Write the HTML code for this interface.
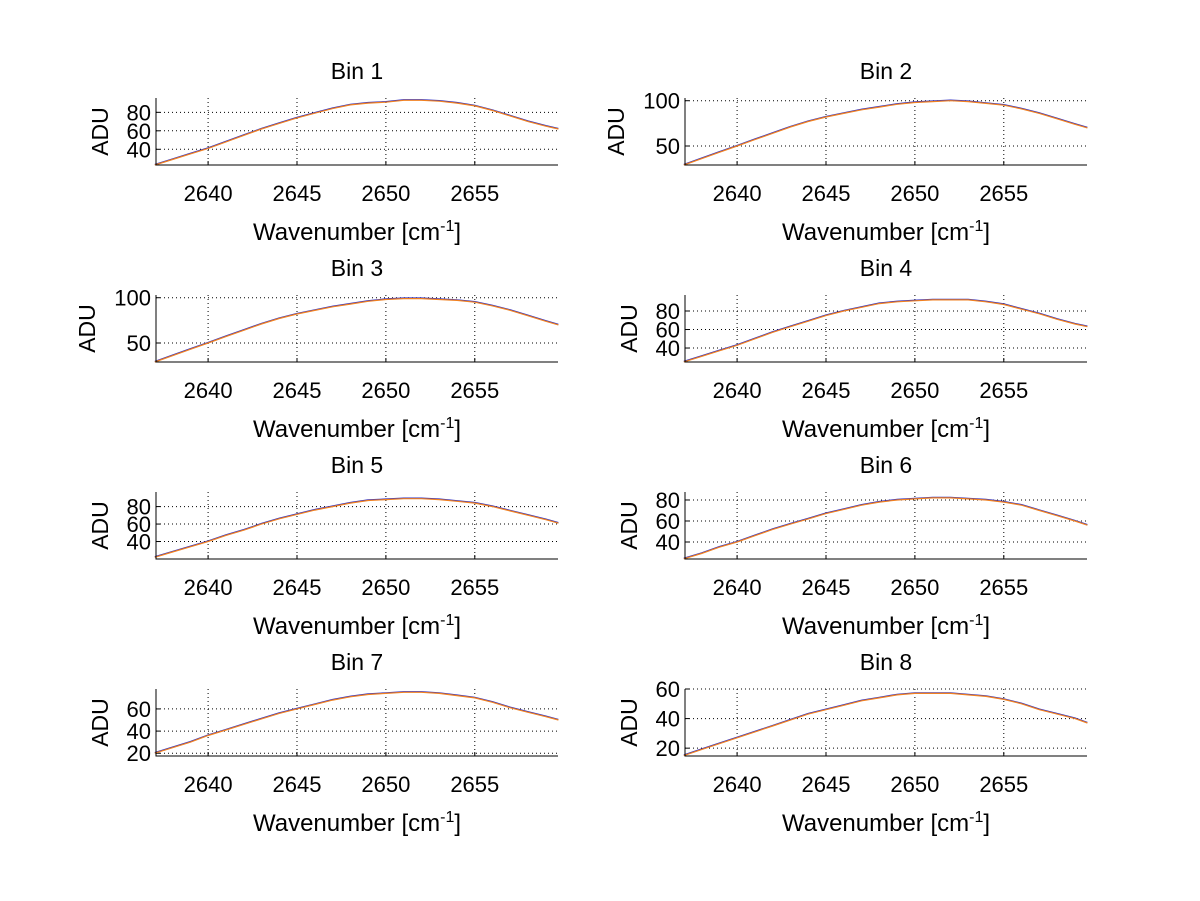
<!DOCTYPE html>
<html><head><meta charset="utf-8"><style>
html,body{margin:0;padding:0;background:#fff;}
svg{display:block;font-family:"Liberation Sans",sans-serif;}
</style></head><body>
<svg id="fig" width="1200" height="901" viewBox="0 0 1200 901" xmlns="http://www.w3.org/2000/svg">
<rect width="1200" height="901" fill="#fff"/>
</svg>
<script>
const wavenumbers=[2637,2638,2639,2640,2641,2642,2643,2644,2645,2646,2647,2648,2649,2650,2651,2652,2653,2654,2655,2656,2657,2658,2659,2659.7];
const bin1=[23,29,35,41,48,55,62,68,74,79,84,88,90,91,93,93,92,90,87,82,76,70,65,62];
const bin2=[29,36,43,50,57,64,71,77,82,86,90,93,96,98,99,100,99,97,95,91,86,80,74,70];
const bin3=[29,36,43,50,57,64,71,77,82,86,90,93,96,98,99,99,98,97,95,91,86,80,74,70];
const bin4=[25,31,37,43,50,57,63,69,75,80,84,88,90,91,92,92,92,90,87,82,77,71,66,63];
const bin5=[22,28,34,40,47,53,60,66,71,76,80,84,87,88,89,89,88,86,84,80,75,70,65,61];
const bin6=[24,29,35,40,46,52,57,62,67,71,75,78,80,81,82,82,81,80,78,75,70,65,60,56];
const bin7=[20,25,30,36,41,46,51,56,60,64,68,71,73,74,75,75,74,72,70,66,61,57,53,50];
const bin8=[15,19,23,27,31,35,39,43,46,49,52,54,56,57,57,57,56,55,53,50,46,43,40,37];
const xTicks=[2640,2645,2650,2655];
const yLimits=[[23,95.5],[29,103],[29,103],[24.9,97.3],[20,96.7],[23.8,87.6],[17.5,78],[14.7,60]];
const yTicks=[[40,60,80],[50,100],[50,100],[40,60,80],[40,60,80],[40,60,80],[20,40,60],[20,40,60]];
const binNames=["Bin 1","Bin 2","Bin 3","Bin 4","Bin 5","Bin 6","Bin 7","Bin 8"];
const bins=[bin1,bin2,bin3,bin4,bin5,bin6,bin7,bin8];
const xMin=2637.07,xMax=2659.68;
const NS="http://www.w3.org/2000/svg";
const svg=document.getElementById('fig');
function mk(tag,attrs,parent){const e=document.createElementNS(NS,tag);for(const k in attrs)e.setAttribute(k,attrs[k]);(parent||svg).appendChild(e);return e;}
bins.forEach((data,i)=>{
  const col=i%2,row=Math.floor(i/2);
  const L=col?685:156,W=402,T=98+row*197,H=67,B=T+H;
  const xs=v=>L+(v-xMin)/(xMax-xMin)*W;
  const ys=v=>B-(v-yLimits[i][0])/(yLimits[i][1]-yLimits[i][0])*H;
  const g=mk('g',{});
  
  
  xTicks.forEach(t=>{
    const x=xs(t);
    const gl=mk('line',{x1:x,x2:x,y1:T,y2:B,stroke:'#000','stroke-width':1,'stroke-dasharray':'1,3'},g);
    
    
    mk('line',{x1:x,x2:x,y1:B,y2:B-4,stroke:'#000'},g);
    const tx=mk('text',{x:x,y:B+36,'font-size':22,'text-anchor':'middle'},g);
    tx.textContent=t;
    
    
  });
  yTicks[i].forEach(t=>{
    const y=ys(t);
    const gl=mk('line',{x1:L,x2:L+W,y1:y,y2:y,stroke:'#000','stroke-width':1,'stroke-dasharray':'1,3'},g);
    
    
    mk('line',{x1:L,x2:L+4,y1:y,y2:y,stroke:'#000'},g);
    const tx=mk('text',{x:L-5,y:y+8,'font-size':22,'text-anchor':'end'},g);
    tx.textContent=t;
    
    
  });
  const pts=data.map((v,j)=>xs(wavenumbers[j]).toFixed(1)+','+ys(v).toFixed(1)).join(' ');
  const s1=mk('polyline',{points:pts,fill:'none',stroke:'#3030c0','stroke-width':1.2,transform:'translate(0,-0.6)'},g);
  
  
  const s2=mk('polyline',{points:pts,fill:'none',stroke:'#f08020','stroke-width':1.2},g);
  
  
  const ax=mk('path',{d:`M${L},${T} L${L},${B} L${L+W},${B}`,fill:'none',stroke:'#000','stroke-width':1},g);
  
  
  const ti=mk('text',{x:L+W/2,y:T-19,'font-size':23,'text-anchor':'middle'},g);
  ti.textContent=binNames[i];
  
  
  const xl=mk('text',{x:L+W/2,y:B+75,'font-size':24,'text-anchor':'middle'},g);
  xl.innerHTML='Wavenumber [cm<tspan dy="-9" font-size="16">-1</tspan><tspan dy="9">]</tspan>';
  
  
  const yx=(i===1||i===2)?L-61:L-48;
  const yl=mk('text',{x:yx,y:T+H/2,'font-size':23,'text-anchor':'middle',transform:`rotate(-90 ${yx} ${T+H/2})`},g);
  yl.textContent='ADU';
  
  
});
</script>
</body></html>
